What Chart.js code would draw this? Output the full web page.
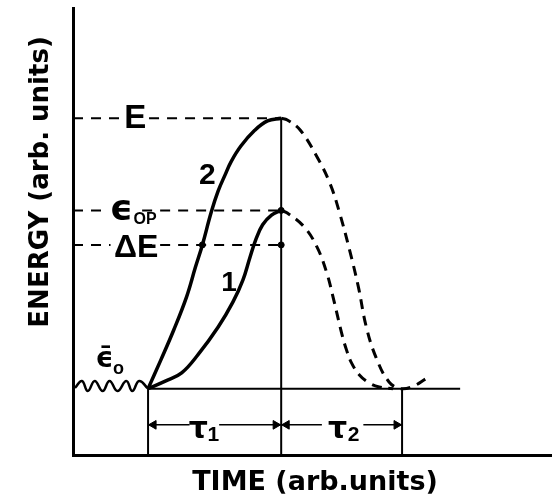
<!DOCTYPE html>
<html lang="en">
<head>
<meta charset="utf-8">
<title>Energy vs time</title>
<script src="https://cdn.jsdelivr.net/npm/chart.js"></script>
<style>
    body { margin: 0; background: #fff; }
    canvas { display: block; }
</style>
</head>
<body>
<canvas id="chart" width="557" height="500"></canvas>
<script>
    // levels (arb. units)
    const levelNames = ['E', 'eps_op', 'dE', 'eps0'];
    const levelValues = [10.05, 7.3, 6.27, 1.98];
    const tStart = 1.9, tPeak = 5.27, tEnd = 8.33;

    // curve 2 (solid rise)
    const curve2Time = [1.9, 2.225, 2.55, 2.875, 3.1, 3.275, 3.5, 3.675, 3.85, 4.0, 4.25, 4.6, 4.925, 5.27];
    const curve2Energy = [1.98, 2.84, 3.73, 4.72, 5.61, 6.27, 7.25, 7.88, 8.36, 8.75, 9.22, 9.69, 9.97, 10.05];
    // curve 1 (solid rise)
    const curve1Time = [1.9, 2.35, 2.75, 3.175, 3.675, 4.05, 4.3, 4.475, 4.625, 4.8, 5.025, 5.27];
    const curve1Energy = [1.98, 2.21, 2.45, 3.01, 3.82, 4.57, 5.22, 5.88, 6.42, 6.87, 7.16, 7.3];
    // dashed decays
    const decay2Time = [5.27, 5.425, 5.75, 6.175, 6.5, 6.75, 7.0, 7.225, 7.425, 7.675, 8.0, 8.3, 8.625, 8.925];
    const decay2Energy = [10.05, 10.0, 9.7, 8.9, 8.12, 7.22, 6.12, 5.01, 3.82, 2.9, 2.18, 1.98, 2.06, 2.27];
    const decay1Time = [5.27, 5.425, 5.85, 6.175, 6.425, 6.6, 6.8, 6.925, 7.05, 7.25, 7.5, 7.75, 8.1];
    const decay1Energy = [7.3, 7.22, 6.81, 6.21, 5.43, 4.63, 3.64, 3.13, 2.75, 2.39, 2.15, 2.03, 1.98];
    // thermal fluctuation around eps0
    const waveTime = [0.05, 0.225, 0.375, 0.55, 0.75, 0.925, 1.125, 1.35, 1.5, 1.675, 1.9];
    const waveEnergy = [2.0, 2.21, 1.91, 2.21, 1.91, 2.21, 1.91, 2.21, 1.91, 2.21, 1.98];

    const zip = (xs, ys) => xs.map((x, i) => ({ x: x, y: ys[i] }));
    const gap = x => ({ x: x, y: null });
    const E = levelValues[0], eOp = levelValues[1], dE = levelValues[2], e0 = levelValues[3];
    const tauY = 0.9;

    const solid = { borderColor: '#000', backgroundColor: '#000', pointRadius: 0, fill: false, spanGaps: false };

    const datasets = [
        { ...solid, data: zip(curve2Time, curve2Energy), borderWidth: 3.5, tension: 0.4 },
        { ...solid, data: zip(curve1Time, curve1Energy), borderWidth: 3.5, tension: 0.4 },
        { ...solid, data: zip(decay2Time, decay2Energy), borderWidth: 3, borderDash: [10, 7], tension: 0.4 },
        { ...solid, data: zip(decay1Time, decay1Energy), borderWidth: 3, borderDash: [10, 7], tension: 0.4 },
        { ...solid, data: zip(waveTime, waveEnergy), borderWidth: 2.5, tension: 0.45 },
        // baseline
        { ...solid, data: [{ x: tStart, y: e0 }, { x: 9.8, y: e0 }], borderWidth: 2 },
        // verticals
        { ...solid, data: [{ x: tStart, y: 0 }, { x: tStart, y: e0 }], borderWidth: 2 },
        { ...solid, data: [{ x: tPeak, y: 0 }, { x: tPeak, y: E }], borderWidth: 2 },
        { ...solid, data: [{ x: tEnd, y: 0 }, { x: tEnd, y: e0 }], borderWidth: 2 },
        // dashed level lines (broken for their labels)
        { ...solid, data: [{ x: 0, y: E }, { x: 1.225, y: E }, gap(1.5), { x: 1.925, y: E }, { x: tPeak, y: E }], borderWidth: 2, borderDash: [10, 8] },
        { ...solid, data: [{ x: 0, y: eOp }, { x: 0.9, y: eOp }, gap(1.3), { x: 1.75, y: eOp }, { x: tPeak, y: eOp }], borderWidth: 2, borderDash: [10, 8] },
        { ...solid, data: [{ x: 0, y: dE }, { x: 0.95, y: dE }, gap(1.3), { x: 1.75, y: dE }, { x: tPeak, y: dE }], borderWidth: 2, borderDash: [10, 8] },
        // tau spans
        { ...solid, data: [{ x: tStart, y: tauY }, { x: 2.95, y: tauY }, gap(3.3), { x: 3.7, y: tauY }, { x: tPeak, y: tauY },
                           { x: 6.3, y: tauY }, gap(6.8), { x: 7.35, y: tauY }, { x: tEnd, y: tauY }], borderWidth: 1.5 },
        // arrow heads
        { ...solid, showLine: false, pointStyle: 'triangle', pointRadius: 5,
          pointRotation: [-90, 90, -90, 90],
          data: [{ x: tStart + 0.14, y: tauY }, { x: tPeak - 0.14, y: tauY }, { x: tPeak + 0.14, y: tauY }, { x: tEnd - 0.14, y: tauY }] },
        // dots
        { ...solid, showLine: false, pointRadius: 3, data: [{ x: 3.275, y: dE }, { x: tPeak, y: dE }, { x: tPeak, y: eOp }] }
    ];

    const labels = [
        { text: 'E', x: 1.575, y: 10.03, font: 'bold 33px "Liberation Sans"' },
        { text: '2', x: 3.4, y: 8.33, font: 'bold 30px "Liberation Sans"' },
        { text: 'ϵ', x: 1.225, y: 7.3, font: 'bold 36px "DejaVu Sans"' },
        { text: 'OP', x: 1.825, y: 7.02, font: 'bold 16px "Liberation Sans"' },
        { text: 'ΔE', x: 1.6, y: 6.18, font: 'bold 32px "Liberation Sans"' },
        { text: '1', x: 3.95, y: 5.13, font: 'bold 28px "Liberation Sans"' },
        { text: 'ϵ̄', x: 0.8, y: 2.85, font: 'bold 28px "DejaVu Sans"' },
        { text: 'o', x: 1.15, y: 2.58, font: 'bold 18px "Liberation Sans"' },
        { text: 'τ', x: 3.175, y: 0.75, font: 'bold 30px "DejaVu Sans"' },
        { text: '1', x: 3.55, y: 0.6, font: 'bold 21px "Liberation Sans"' },
        { text: 'τ', x: 6.7, y: 0.75, font: 'bold 30px "DejaVu Sans"' },
        { text: '2', x: 7.1, y: 0.58, font: 'bold 21px "Liberation Sans"' }
    ];

    const textPlugin = {
        id: 'texts',
        afterDatasetsDraw(chart) {
            const { ctx, chartArea, scales } = chart;
            ctx.save();
            ctx.fillStyle = '#000';
            ctx.textAlign = 'center';
            ctx.textBaseline = 'middle';
            labels.forEach(l => {
                ctx.font = l.font;
                ctx.fillText(l.text, scales.x.getPixelForValue(l.x), scales.y.getPixelForValue(l.y));
            });
            ctx.font = 'bold 27px "DejaVu Sans"';
            ctx.fillText('TIME (arb.units)', (chartArea.left + chartArea.right) / 2 + 3, chartArea.bottom + 28);
            ctx.font = 'bold 26px "DejaVu Sans"';
            ctx.translate(chartArea.left - 32, scales.y.getPixelForValue(8.15));
            ctx.rotate(-Math.PI / 2);
            ctx.fillText('ENERGY (arb. units)', 0, 0);
            ctx.restore();
        }
    };

    new Chart(document.getElementById('chart'), {
        type: 'line',
        data: { datasets: datasets },
        options: {
            responsive: false,
            animation: false,
            layout: { padding: { left: 73, top: 8, right: 0, bottom: 45 } },
            plugins: { legend: { display: false }, tooltip: { enabled: false } },
            scales: {
                x: {
                    type: 'linear', min: 0, max: 12.1,
                    ticks: { display: false },
                    grid: { display: false, drawTicks: false },
                    border: { display: true, color: '#000', width: 3 }
                },
                y: {
                    type: 'linear', min: 0, max: 13.34,
                    ticks: { display: false },
                    grid: { display: false, drawTicks: false },
                    border: { display: true, color: '#000', width: 3 }
                }
            }
        },
        plugins: [textPlugin]
    });
</script>
</body>
</html>
